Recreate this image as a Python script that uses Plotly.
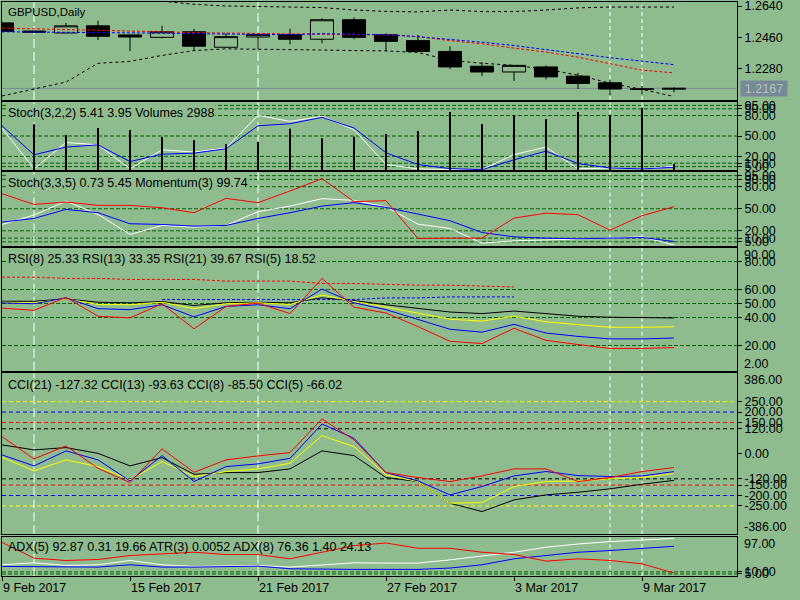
import plotly.graph_objects as go

# ---------------- data ----------------
bars = list(range(22))
date_idx = [0, 4, 8, 12, 16, 20]
date_text = ["9 Feb 2017", "15 Feb 2017", "21 Feb 2017", "27 Feb 2017", "3 Mar 2017", "9 Mar 2017"]

opens  = [1.2543, 1.2496, 1.2485, 1.2526, 1.2474, 1.2460, 1.2492, 1.2403, 1.2462, 1.2475, 1.2449,
          1.2561, 1.2475, 1.2441, 1.2379, 1.2294, 1.2261, 1.2290, 1.2237, 1.2199, 1.2164, 1.2162]
highs  = [1.2550, 1.2498, 1.2543, 1.2555, 1.2476, 1.2526, 1.2509, 1.2485, 1.2485, 1.2509, 1.2570,
          1.2574, 1.2483, 1.2474, 1.2409, 1.2316, 1.2300, 1.2299, 1.2256, 1.2214, 1.2180, 1.2173]
lows   = [1.2488, 1.2488, 1.2483, 1.2445, 1.2381, 1.2454, 1.2381, 1.2400, 1.2394, 1.2420, 1.2426,
          1.2449, 1.2381, 1.2377, 1.2277, 1.2237, 1.2210, 1.2218, 1.2163, 1.2129, 1.2133, 1.2144]
closes = [1.2494, 1.2490, 1.2526, 1.2466, 1.2462, 1.2492, 1.2409, 1.2464, 1.2477, 1.2449, 1.2561,
          1.2460, 1.2437, 1.2379, 1.2290, 1.2261, 1.2299, 1.2233, 1.2195, 1.2163, 1.2161, 1.2167]
bid_price = 1.2167

bb_upper = [1.2790, 1.2760, 1.2735, 1.2705, 1.2685, 1.2668, 1.2650, 1.2640, 1.2638, 1.2637, 1.2631,
            1.2617, 1.2609, 1.2606, 1.2617, 1.2608, 1.2608, 1.2617, 1.2629, 1.2634, 1.2634, 1.2634]
bb_lower = [1.2123, 1.2163, 1.2203, 1.2311, 1.2322, 1.2356, 1.2384, 1.2394, 1.2393, 1.2390, 1.2387,
            1.2384, 1.2382, 1.2373, 1.2328, 1.2311, 1.2299, 1.2277, 1.2243, 1.2197, 1.2161, 1.2120]
ma_red  = [1.2513, 1.2509, 1.2507, 1.2504, 1.2498, 1.2492, 1.2487, 1.2484, 1.2481, 1.2478, 1.2478,
           1.2475, 1.2474, 1.2464, 1.2441, 1.2423, 1.2398, 1.2375, 1.2346, 1.2309, 1.2271, 1.2256]
ma_blue = [1.2492, 1.2491, 1.2490, 1.2487, 1.2485, 1.2484, 1.2481, 1.2479, 1.2477, 1.2475, 1.2481,
           1.2478, 1.2475, 1.2464, 1.2449, 1.2432, 1.2413, 1.2388, 1.2366, 1.2343, 1.2322, 1.2303]
price_ticks = [1.2640, 1.2460, 1.2280]
price_range = [1.2100, 1.2663]

stoch1_main   = [61.7, 1.6, 40.5, 37.0, 1.6, 29.7, 26.3, 32.2, 80.4, 71.5, 78.9, 59.2, 8.0, 1.6,
                 0.6, 0.6, 22.7, 33.7, 1.6, 3.0, 1.6, 5.41]
stoch1_signal = [65.0, 22.3, 33.7, 37.0, 12.4, 23.3, 24.8, 31.2, 65.0, 68.0, 77.4, 61.7, 25.3, 8.0,
                 2.0, 0.5, 15.0, 27.7, 9.5, 3.0, 1.6, 3.95]
volumes = [None, 22850, 17500, 21000, 20000, 16500, 15000, 12850, 14150, 20650, 15850, 16650,
           18000, 19500, 29000, 23000, 27500, 25500, 29000, 27500, 31000, 2988]
volume_top = 34000

stoch2_main   = [28.6, 41.4, 60.4, 42.3, 15.0, 27.3, 25.0, 27.3, 46.0, 53.6, 63.7, 61.4, 52.5, 29.0,
                 23.2, 3.2, 6.4, 7.3, 8.6, 10.0, 11.8, 0.73]
stoch2_signal = [31.8, 36.8, 49.1, 44.6, 29.6, 28.6, 26.4, 27.3, 36.8, 44.6, 53.6, 58.3, 51.8, 42.7,
                 33.7, 17.7, 11.8, 10.0, 9.1, 10.0, 10.9, 5.45]
momentum      = [70.5, 55.9, 59.1, 54.6, 54.6, 51.4, 44.6, 64.1, 58.3, 74.1, 91.0, 59.6, 61.0, 9.5,
                 10.0, 10.0, 37.3, 44.0, 41.9, 20.9, 40.5, 52.8]
stoch_levels = [95, 90, 80, 50, 20, 10, 5]

rsi8  = [50.5, 49.8, 54.0, 46.3, 45.6, 49.1, 40.5, 47.9, 49.1, 46.3, 60.3, 50.5, 45.6, 38.8, 31.6,
         29.5, 35.1, 28.9, 26.5, 24.7, 24.7, 25.33]
rsi13 = [50.9, 50.5, 53.3, 49.3, 49.1, 50.9, 46.3, 49.8, 50.5, 49.3, 56.1, 51.4, 47.4, 43.2, 38.8,
         37.4, 40.9, 36.9, 34.7, 33.0, 33.0, 33.35]
rsi21 = [51.6, 51.6, 53.3, 50.9, 50.5, 51.4, 48.6, 50.5, 50.9, 50.5, 54.0, 52.1, 49.1, 46.7, 43.9,
         42.8, 44.6, 42.8, 40.9, 40.2, 40.0, 39.67]
rsi5  = [46.7, 45.1, 54.4, 40.9, 39.7, 49.8, 31.9, 47.9, 50.2, 42.8, 67.9, 47.4, 43.2, 33.5, 23.0,
         21.4, 32.3, 23.7, 20.7, 17.9, 17.9, 18.52]
rsi_dash_red  = [68.8, 68.8, 67.9, 67.9, 67.2, 67.2, 67.2, 66.0, 66.0, 66.0, 64.3, 64.3, 63.7, 63.1,
                 63.1, 62.6, 61.8]
rsi_dash_blue = [None, None, None, None, None, 52.8, 52.8, 52.8, 52.8, 52.8, 52.8, 52.8, 54.0, 54.0,
                 54.7, 54.7, 54.7]
rsi_levels = [80, 60, 50, 40, 20]
rsi_range = [2, 90]

cci21 = [42.7, 18.7, 29.7, 2.4, -58, -18.2, -98.3, -90, -90, -72.4, 13.9, -8.6, -114, -133, -237,
         -277, -221, -197, -184.5, -168, -146, -127.32]
cci13 = [-16.8, -82, -29.2, -61.4, -125, -37.4, -109, -85.3, -72.4, -45.5, 87.2, 34.5, -101, -133,
         -237, -234, -157, -133, -130, -120, -114, -93.63]
cci8  = [-5.3, -58, 13.9, -29.2, -130, -8.6, -133, -61.4, -48.4, -21.6, 143, 74.3, -90, -130, -197,
         -157, -106, -85, -104.5, -109, -106, -85.50]
cci5  = [82.5, -24.5, 37.9, -69.5, -138, 23.5, -88.7, -29.2, -10.1, 5.8, 167, 66.6, -90, -114, -133,
         -106, -72.5, -72.5, -133, -114, -85.3, -66.02]
cci_ticks = [250, 200, 150, 120, 0, -120, -150, -200, -250]
cci_level_vals = [250, 200, 150, 120, -120, -150, -200, -250]
cci_level_cols = ["#FFFF00", "#0000FF", "#FF0000", "#000000", "#000000", "#FF0000", "#0000FF", "#FFFF00"]
cci_range = [-386, 386]

adx_white = [27.7, 32.5, 26.1, 27.7, 38.3, 27.7, 23.6, 24.4, 26.1, 22.0, 27.7, 32.5, 31.8, 31.8, 39.9,
             48.9, 58.7, 70.9, 79.0, 84.8, 89.7, 92.87]
adx_blue  = [23.6, 23.6, 22.0, 22.0, 27.7, 22.0, 22.0, 23.6, 24.4, 17.9, 16.3, 16.3, 16.3, 16.3, 19.6,
             27.7, 42.4, 50.5, 58.7, 62.8, 68.5, 73.3]
adx_red   = [83.0, 44.0, 38.3, 40.8, 50.5, 54.6, 58.7, 53.0, 53.0, 42.4, 58.7, 75.0, 81.5, 68.5, 68.5,
             58.7, 53.0, 36.7, 42.4, 38.3, 30.0, 7.3]
adx_levels = [10, 5]
adx_range = [0, 97]

vlines_long = [1, 8]
vlines_short = [19, 20]

titles = ["GBPUSD,Daily",
          "Stoch(3,2,2) 5.41 3.95 Volumes 2988",
          "Stoch(3,3,5) 0.73 5.45 Momentum(3) 99.74",
          "RSI(8) 25.33 RSI(13) 33.35 RSI(21) 39.67 RSI(5) 18.52",
          "CCI(21) -127.32 CCI(13) -93.63 CCI(8) -85.50 CCI(5) -66.02",
          "ADX(5) 92.87 0.31 19.66 ATR(3) 0.0052 ADX(8) 76.36 1.40 24.13"]

# ---------------- styling ----------------
BG = "#8FBC8F"
GRID = "#006400"
FONT = "Liberation Sans"
W, H = 800, 600
XL, XR = 2, 737
panels = {1: (2, 100), 2: (102, 170), 3: (172, 245.5), 4: (247.5, 370.7), 5: (373.3, 534.3), 6: (536.7, 576)}
title_y = {1: 12, 2: 113.3, 3: 183.3, 4: 259, 5: 384.7, 6: 547}
xrange_ = [0, (XR - XL) / 32.0]


def dom(a, b):
    return [1 - b / H, 1 - a / H]


def ax(k, kind):
    return kind if k == 1 else f"{kind}{k}"


fig = go.Figure()


def line(k, y, color, dash=None, width=1, ya=None):
    fig.add_trace(go.Scatter(x=bars[:len(y)], y=y, mode="lines",
                             line=dict(color=color, width=width, dash=dash),
                             xaxis=ax(k, "x"), yaxis=ya if ya else ax(k, "y"),
                             hoverinfo="skip", connectgaps=False))


# panel 1
fig.add_trace(go.Candlestick(x=bars, open=opens, high=highs, low=lows, close=closes,
                             increasing=dict(line=dict(color="black", width=1), fillcolor="rgba(0,0,0,0)"),
                             decreasing=dict(line=dict(color="black", width=1), fillcolor="black"),
                             whiskerwidth=0, xaxis="x", yaxis="y"))
line(1, bb_upper, "black", "3px,3px")
line(1, bb_lower, "black", "3px,3px")
line(1, ma_red, "#FF0000", "3px,2px")
line(1, ma_blue, "#0000FF", "3px,2px")

# panel 2
fig.add_trace(go.Bar(x=bars, y=volumes, width=0.06, marker=dict(color="black", line=dict(width=0)),
                     xaxis="x2", yaxis="y7", hoverinfo="skip"))
line(2, stoch1_main, "white")
line(2, stoch1_signal, "#0000FF")

# panel 3
line(3, stoch2_main, "white")
line(3, stoch2_signal, "#0000FF")
line(3, momentum, "#FF0000")

# panel 4
line(4, rsi_dash_red, "#FF0000", "3px,2px")
line(4, rsi_dash_blue, "#0000FF", "3px,2px")
line(4, rsi21, "black")
line(4, rsi13, "#FFFF00")
line(4, rsi8, "#0000FF")
line(4, rsi5, "#FF0000")

# panel 5
line(5, cci21, "black")
line(5, cci13, "#FFFF00")
line(5, cci8, "#0000FF")
line(5, cci5, "#FF0000")

# panel 6
line(6, adx_white, "white")
line(6, adx_blue, "#0000FF")
line(6, adx_red, "#FF0000")

layout = dict(width=W, height=H, margin=dict(l=0, r=0, t=0, b=0, pad=0), paper_bgcolor=BG, plot_bgcolor=BG,
              showlegend=False, font=dict(family=FONT, size=12.5, color="black"), hovermode=False,
              boxgap=0.28, boxgroupgap=0)

ytick_cfg = {
    1: (price_ticks, [f"{v:.4f}" for v in price_ticks], price_range),
    2: (stoch_levels, [f"{v:.2f}" for v in stoch_levels], [0, 100]),
    3: (stoch_levels, [f"{v:.2f}" for v in stoch_levels], [0, 100]),
    4: (rsi_levels, [f"{v:.2f}" for v in rsi_levels], rsi_range),
    5: (cci_ticks, [f"{v:.2f}" for v in cci_ticks], cci_range),
    6: (adx_levels, [f"{v:.2f}" for v in adx_levels], adx_range),
}

for k, (a, b) in panels.items():
    xa = dict(domain=[XL / W, XR / W], range=xrange_, anchor=ax(k, "y"), showgrid=False, zeroline=False,
              showline=True, mirror=True, linecolor="black", linewidth=1, fixedrange=True, automargin=False,
              ticklabeloverflow="allow")
    if k != 1:
        xa["matches"] = "x"
    if k == 6:
        xa.update(tickmode="array", tickvals=date_idx, ticktext=date_text, ticks="outside", ticklen=4,
                  tickcolor="black", ticklabelposition="outside right", tickfont=dict(size=12.5))
    else:
        xa.update(showticklabels=False, ticks="")
    if k == 1:
        xa["rangeslider"] = dict(visible=False)
    vals, txt, rng = ytick_cfg[k]
    ya = dict(domain=dom(a, b), range=rng, anchor=ax(k, "x"), side="right", showgrid=False, zeroline=False,
              showline=True, mirror=True, linecolor="black", linewidth=1, tickmode="array", tickvals=vals,
              ticktext=txt, ticks="outside", ticklen=4, tickcolor="black", fixedrange=True, automargin=False,
              ticklabeloverflow="allow")
    layout[ax(k, "xaxis")] = xa
    layout[ax(k, "yaxis")] = ya

layout["yaxis7"] = dict(overlaying="y2", range=[0, volume_top], anchor="x2", visible=False, fixedrange=True)

shapes = []
annotations = []


def hlevel(k, v, color, dash="4px,2px"):
    shapes.append(dict(type="line", xref=f"{ax(k, 'x')} domain", x0=0, x1=1, yref=ax(k, "y"), y0=v, y1=v,
                       line=dict(color=color, width=1, dash=dash), layer="below"))


for v in stoch_levels:
    hlevel(2, v, GRID)
    hlevel(3, v, GRID)
for v in rsi_levels:
    hlevel(4, v, GRID)
for v, c in zip(cci_level_vals, cci_level_cols):
    hlevel(5, v, c, "4px,3px")
for v in adx_levels:
    hlevel(6, v, GRID)

# bid line
shapes.append(dict(type="line", xref="x domain", x0=0, x1=1, yref="y", y0=bid_price, y1=bid_price,
                   line=dict(color="#778899", width=1), layer="below"))

# vertical separators
for k in panels:
    for xv, dash in [(v, "9px,4px") for v in vlines_long] + [(v, "4px,3px") for v in vlines_short]:
        shapes.append(dict(type="line", xref=ax(k, "x"), x0=xv, x1=xv, yref=f"{ax(k, 'y')} domain", y0=0, y1=1,
                           line=dict(color="white", width=1, dash=dash), layer="below"))

# titles
for k, t in enumerate(titles, start=1):
    annotations.append(dict(text=t, xref="paper", yref="paper", x=6 / W, y=1 - title_y[k] / H,
                            xanchor="left", yanchor="middle", showarrow=False,
                            font=dict(size=11.5 if k == 1 else 12.5, color="black"),
                            bgcolor=BG if k in (2, 3, 4) else None, borderpad=1))

# extreme scale labels
extremes = [(4, rsi_range[1], -7), (4, rsi_range[0], 7), (5, cci_range[1], -7), (5, cci_range[0], 7),
            (6, adx_range[1], -7)]
for k, v, sh in extremes:
    annotations.append(dict(text=f"{v:.2f}", xref="paper", yref=ax(k, "y"), x=742 / W, y=v, yshift=sh,
                            xanchor="left", yanchor="middle", showarrow=False, font=dict(size=12.5)))

# bid price box
annotations.append(dict(text=f"{bid_price:.4f}", xref="paper", yref="y", x=740 / W, y=bid_price,
                        xanchor="left", yanchor="middle", showarrow=False, bgcolor="#778899",
                        font=dict(size=12.5, color="#AFC4B6"), width=44, height=13, borderpad=1))

layout["shapes"] = shapes
layout["annotations"] = annotations
fig.update_layout(**layout)
fig.write_html("out.html", config={"displayModeBar": False},
               post_script="document.body.style.margin='0';document.body.style.overflow='hidden';")
